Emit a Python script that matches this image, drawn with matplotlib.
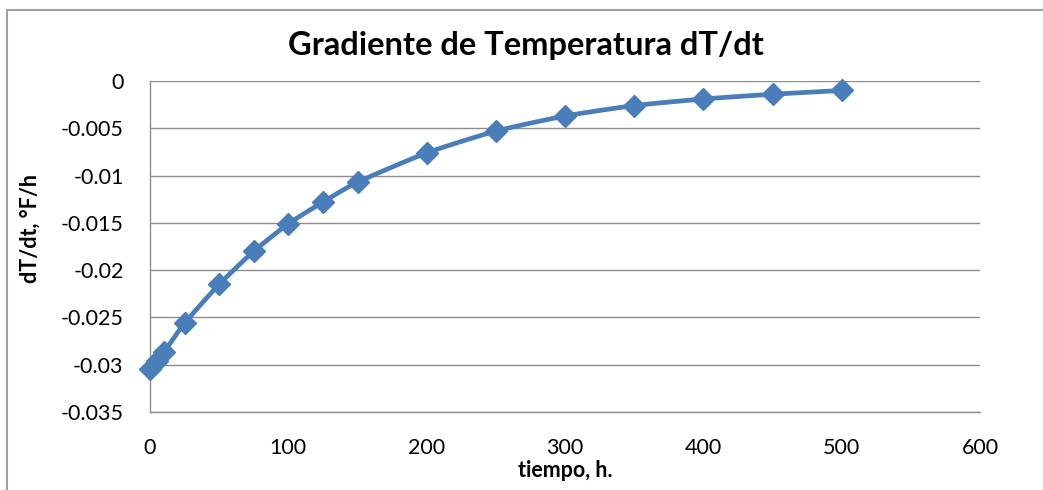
import numpy as np
import matplotlib
matplotlib.use("Agg")
import matplotlib.pyplot as plt
from matplotlib.patches import Rectangle

# Temperature gradient over time
tiempo = [0, 5, 10, 25, 50, 75, 100, 125, 150, 200, 250, 300, 350, 400, 450, 500]
dTdt = [-0.0305, -0.0296, -0.0287, -0.0256, -0.0215, -0.0180, -0.0151, -0.0128,
        -0.0107, -0.0076, -0.0053, -0.0037, -0.0026, -0.0019, -0.0014, -0.0010]

x_ticks = [0, 100, 200, 300, 400, 500, 600]
y_ticks = [0, -0.005, -0.01, -0.015, -0.02, -0.025, -0.03, -0.035]
y_labels = ["0", "-0.005", "-0.01", "-0.015", "-0.02", "-0.025", "-0.03", "-0.035"]

plt.rcParams['font.family'] = ['Lato', 'DejaVu Sans']

BLUE = "#4A7EBB"
GRID = "#8c8c8c"


def smooth(x, y, n=20):
    """Catmull-Rom style curve through the points, like a smoothed line chart."""
    x = np.asarray(x, float)
    y = np.asarray(y, float)
    px = np.concatenate([[2 * x[0] - x[1]], x, [2 * x[-1] - x[-2]]])
    py = np.concatenate([[2 * y[0] - y[1]], y, [2 * y[-1] - y[-2]]])
    xs, ys = [], []
    t = np.linspace(0, 1, n, endpoint=False)
    for i in range(1, len(px) - 2):
        p0, p1, p2, p3 = (np.array([px[j], py[j]]) for j in range(i - 1, i + 3))
        m1 = (p2 - p0) / 2 * 0.6
        m2 = (p3 - p1) / 2 * 0.6
        h00 = 2 * t**3 - 3 * t**2 + 1
        h10 = t**3 - 2 * t**2 + t
        h01 = -2 * t**3 + 3 * t**2
        h11 = t**3 - t**2
        pts = np.outer(h00, p1) + np.outer(h10, m1) + np.outer(h01, p2) + np.outer(h11, m2)
        xs.append(pts[:, 0])
        ys.append(pts[:, 1])
    xs.append([x[-1]])
    ys.append([y[-1]])
    return np.concatenate(xs), np.concatenate(ys)


fig = plt.figure(figsize=(10.43, 4.9), dpi=100)
fig.patch.set_facecolor("white")

# outer chart border
fig.patches.append(Rectangle((7 / 1043, -0.05), 1.2, 1 - 10 / 490 + 0.05,
                             transform=fig.transFigure, fill=False,
                             edgecolor="#a0a0a0", linewidth=1.5))

ax = fig.add_axes([150 / 1043, 1 - 412 / 490, 830 / 1043, 331 / 490])
ax.set_xlim(0, 600)
ax.set_ylim(-0.035, 0)
ax.set_xticks(x_ticks)
ax.set_yticks(y_ticks)
ax.set_yticklabels(y_labels)
ax.tick_params(axis="both", length=0, labelsize=15.5, colors="#000000")
ax.tick_params(axis="x", pad=19)
ax.tick_params(axis="y", pad=19)
ax.grid(axis="y", color=GRID, linewidth=1.0)
ax.set_axisbelow(True)
for side in ["top", "right"]:
    ax.spines[side].set_visible(False)
for side in ["left", "bottom"]:
    ax.spines[side].set_color(GRID)
    ax.spines[side].set_linewidth(1.0)

sx, sy = smooth(tiempo, dTdt)
ax.plot(sx, sy, color=BLUE, linewidth=3.4, solid_capstyle="round", zorder=3, clip_on=False)
ax.plot(tiempo, dTdt, linestyle="none", marker="D", markersize=11,
        color=BLUE, zorder=4, clip_on=False)

fig.text(565 / 1043, 1 - 470 / 490, "tiempo, h.", ha="center", va="center",
         fontsize=15.5, fontweight="bold")
fig.text(30 / 1043, 1 - 228 / 490, "dT/dt, °F/h", ha="center", va="center",
         rotation=90, fontsize=15.5, fontweight="bold")
fig.text(526 / 1043, 1 - 46 / 490, "Gradiente de Temperatura dT/dt", ha="center", va="center",
         fontsize=23.5, fontweight="bold")

fig.savefig("out.png", dpi=100, facecolor="white")
